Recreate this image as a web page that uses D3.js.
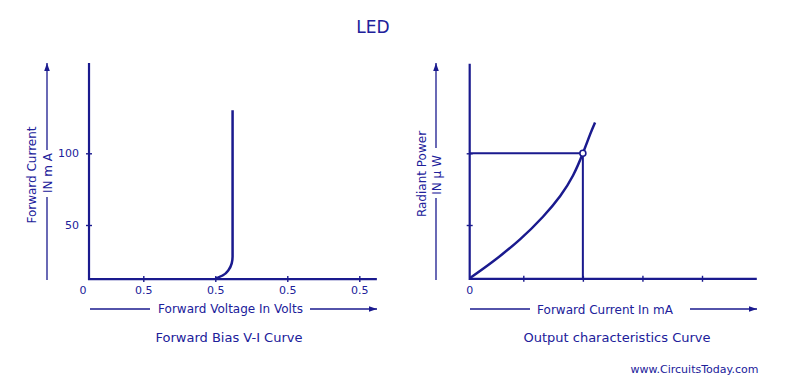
<!DOCTYPE html>
<html>
<head>
<meta charset="utf-8">
<script src="https://cdn.jsdelivr.net/npm/d3@7"></script>
<style>
  body { margin: 0; background: #fff; }
  svg text { font-family: "DejaVu Sans", Verdana, sans-serif; fill: #20209a; }
</style>
</head>
<body>
<div id="chart"></div>
<script>
// ---- data ----
const chartTitle = "LED";

// forward bias V-I curve (volts, mA)
const viVoltage = [1.0, 1.056, 1.091, 1.114, 1.12, 1.12];
const viCurrent = [12.5, 15.1, 18.5, 23.2, 27.8, 130];
const viXTicks = [0.5, 1.0, 1.5, 2.0];
const viXTickLabels = ["0.5", "0.5", "0.5", "0.5"];   // the original really labels them all 0.5
const viYTicks = [50, 100];

// output characteristics (arbitrary units, no tick labels)
const outCurrent = [0.106, 0.49, 0.945, 1.33, 1.62, 1.835, 2.0, 2.12, 2.205];
const outPower = [0.26, 0.49, 0.80, 1.115, 1.405, 1.69, 2.0, 2.26, 2.43];
const outXTicks = [1, 2, 3, 4];
const outYTicks = [1, 2];
const outPoint = [2.0, 2.0];

const navy = "#1a1a8e";
const width = 788, height = 387;

var svg = d3.select("#chart").append("svg")
    .attr("width", width)
    .attr("height", height);

svg.append("defs").append("marker")
    .attr("id", "arrow")
    .attr("viewBox", "0 0 10 10")
    .attr("refX", 10).attr("refY", 5)
    .attr("markerWidth", 8).attr("markerHeight", 8)
    .attr("markerUnits", "userSpaceOnUse")
    .attr("orient", "auto")
  .append("path")
    .attr("d", "M0,1.5L10,5L0,8.5Z")
    .attr("fill", navy);

svg.append("text")
    .attr("x", 373).attr("y", 33)
    .attr("text-anchor", "middle")
    .style("font-size", "17px")
    .text(chartTitle);

function arrowLine(x1, y1, x2, y2, arrow) {
  var l = svg.append("line")
      .attr("x1", x1).attr("y1", y1).attr("x2", x2).attr("y2", y2)
      .attr("stroke", navy).attr("stroke-width", 1.3);
  if (arrow) l.attr("marker-end", "url(#arrow)");
}

function label(x, y, txt, size, rotate) {
  var t = svg.append("text")
      .attr("text-anchor", "middle")
      .style("font-size", size + "px")
      .text(txt);
  if (rotate) t.attr("transform", "translate(" + x + "," + y + ") rotate(-90)");
  else t.attr("x", x).attr("y", y);
  return t;
}

function styleAxis(g) {
  g.select(".domain").remove();
  g.selectAll(".tick line").attr("stroke", navy).attr("stroke-width", 1.4);
  g.selectAll(".tick text").style("font-size", "11px").attr("fill", "#20209a");
}

/* ---------- LEFT: Forward Bias V-I Curve ---------- */
var xVI = d3.scaleLinear().domain([0.5, 2.0]).range([143.3, 359.3]);
var yVI = d3.scaleLinear().domain([50, 100]).range([225, 153.3]);
var viXmin = 0.123, viXmax = 2.122, viYmin = 12.3, viYmax = 163;

var left = svg.append("g");

left.append("g")
    .attr("transform", "translate(0," + yVI(viYmin) + ")")
    .call(d3.axisBottom(xVI).tickValues(viXTicks)
      .tickFormat(function(d, i) { return viXTickLabels[i]; })
      .tickSize(3).tickPadding(4))
    .call(styleAxis)
    .call(g => g.selectAll(".tick line").attr("y1", -3));

left.append("g")
    .attr("transform", "translate(" + xVI(viXmin) + ",0)")
    .call(d3.axisLeft(yVI).tickValues(viYTicks).tickSize(3).tickPadding(7))
    .call(styleAxis)
    .call(g => g.selectAll(".tick line").attr("x1", 3));

// axes
left.append("path")
    .attr("d", d3.line()([[xVI(viXmin), yVI(viYmax)], [xVI(viXmin), yVI(viYmin)], [xVI(viXmax), yVI(viYmin)]]))
    .attr("fill", "none").attr("stroke", navy).attr("stroke-width", 2.2);

left.append("text")
    .attr("x", xVI(viXmin) - 6).attr("y", yVI(viYmin) + 15)
    .attr("text-anchor", "middle")
    .style("font-size", "11px")
    .text("0");

var viLine = d3.line()
    .x(function(d) { return xVI(d[0]); })
    .y(function(d) { return yVI(d[1]); })
    .curve(d3.curveMonotoneY);

left.append("path")
    .datum(d3.zip(viVoltage, viCurrent))
    .attr("d", viLine)
    .attr("fill", "none").attr("stroke", navy).attr("stroke-width", 2.5);

// axis titles
label(35.5, 175, "Forward Current", 12, true);
label(52, 173, "IN m A", 12, true);
arrowLine(47, 280, 47, 197, false);
arrowLine(47, 150, 47, 63, true);

label(230.5, 313, "Forward Voltage In Volts", 12, false);
arrowLine(90, 309, 150, 309, false);
arrowLine(310, 309, 377, 309, true);

label(229, 342, "Forward Bias V-I Curve", 13, false);

/* ---------- RIGHT: Output characteristics Curve ---------- */
var xOut = d3.scaleLinear().domain([1, 4]).range([523.3, 702]);
var yOut = d3.scaleLinear().domain([1, 2]).range([225, 153.3]);
var outXmin = 0.1, outXmax = 4.92, outYmin = 0.25, outYmax = 3.25;

var right = svg.append("g");

right.append("g")
    .attr("transform", "translate(0," + yOut(outYmin) + ")")
    .call(d3.axisBottom(xOut).tickValues(outXTicks).tickFormat("").tickSize(3))
    .call(styleAxis)
    .call(g => g.selectAll(".tick line").attr("y1", -3));

right.append("g")
    .attr("transform", "translate(" + xOut(outXmin) + ",0)")
    .call(d3.axisLeft(yOut).tickValues(outYTicks).tickFormat("").tickSize(3))
    .call(styleAxis)
    .call(g => g.selectAll(".tick line").attr("x1", 3));

right.append("path")
    .attr("d", d3.line()([[xOut(outXmin), yOut(outYmax)], [xOut(outXmin), yOut(outYmin)], [xOut(outXmax), yOut(outYmin)]]))
    .attr("fill", "none").attr("stroke", navy).attr("stroke-width", 2.2);

right.append("text")
    .attr("x", xOut(outXmin)).attr("y", yOut(outYmin) + 15)
    .attr("text-anchor", "middle")
    .style("font-size", "11px")
    .text("0");

// guide lines to the operating point
right.append("path")
    .attr("d", d3.line()([[xOut(outXmin), yOut(outPoint[1])], [xOut(outPoint[0]), yOut(outPoint[1])], [xOut(outPoint[0]), yOut(outYmin)]]))
    .attr("fill", "none").attr("stroke", navy).attr("stroke-width", 2);

var outLine = d3.line()
    .x(function(d) { return xOut(d[0]); })
    .y(function(d) { return yOut(d[1]); })
    .curve(d3.curveNatural);

right.append("path")
    .datum(d3.zip(outCurrent, outPower))
    .attr("d", outLine)
    .attr("fill", "none").attr("stroke", navy).attr("stroke-width", 2.5);

right.append("circle")
    .attr("cx", xOut(outPoint[0])).attr("cy", yOut(outPoint[1]))
    .attr("r", 3)
    .attr("fill", "#fff").attr("stroke", navy).attr("stroke-width", 1.6);

label(426, 174, "Radiant Power", 12, true);
label(440.5, 175, "IN \u00b5 W", 12, true);
arrowLine(436, 280, 436, 198, false);
arrowLine(436, 148, 436, 63, true);

label(605, 314, "Forward Current In mA", 12, false);
arrowLine(470, 309, 530, 309, false);
arrowLine(690, 309, 757, 309, true);

label(617, 342, "Output characteristics Curve", 13, false);

label(694.5, 373, "www.CircuitsToday.com", 11, false);
</script>
</body>
</html>
